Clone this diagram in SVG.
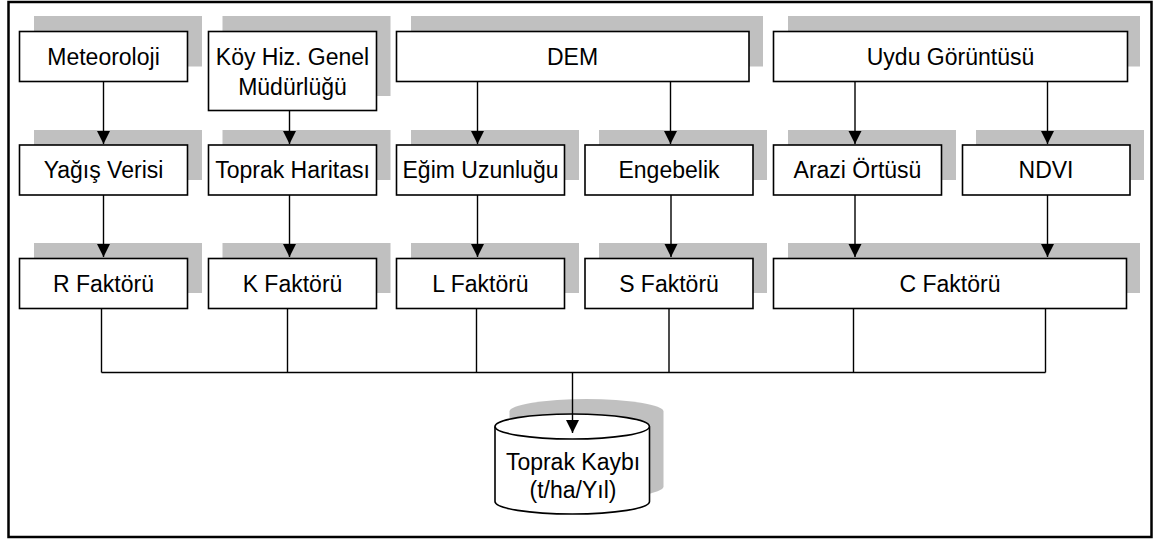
<svg xmlns="http://www.w3.org/2000/svg" width="1157" height="540" viewBox="0 0 1157 540">
<defs>
<style>
.sh{fill:#c0c0c0;stroke:none}
.bx{fill:#fff;stroke:#000;stroke-width:1.6}
.t{font-family:"Liberation Sans",Arial,sans-serif;font-size:23px;fill:#000;text-anchor:middle}
.c{fill:none;stroke:#000;stroke-width:1.4}
</style>
<marker id="ah" markerWidth="14" markerHeight="14" refX="13" refY="7" orient="auto" markerUnits="userSpaceOnUse"><path d="M0,0.5 L13,7 L0,13.5 z" fill="#000"/></marker>
</defs>
<rect x="0" y="0" width="1157" height="540" fill="#fff"/>
<rect x="8.5" y="2" width="1143" height="535" fill="none" stroke="#000" stroke-width="2.5"/>

<g id="meteoroloji"><rect class="sh" x="34" y="16" width="168" height="50.5"/><rect class="bx" x="19.5" y="31.5" width="168" height="50"/><text class="t" x="103.5" y="64.5">Meteoroloji</text></g>
<g id="koy"><rect class="sh" x="222.5" y="16" width="168" height="80"/><rect class="bx" x="208.5" y="31.5" width="168" height="79"/><text class="t" x="292.5" y="64.5">Köy Hiz. Genel</text><text class="t" x="292.5" y="94.5">Müdürlüğü</text></g>
<g id="dem"><rect class="sh" x="411" y="16" width="352" height="50.5"/><rect class="bx" x="396.5" y="31.5" width="352.5" height="50"/><text class="t" x="572.5" y="64.5">DEM</text></g>
<g id="uydu"><rect class="sh" x="788" y="16" width="352" height="50.5"/><rect class="bx" x="773.5" y="31.5" width="354" height="50"/><text class="t" x="950.5" y="64.5">Uydu Görüntüsü</text></g>

<g id="yagis"><rect class="sh" x="34" y="130" width="168" height="50"/><rect class="bx" x="19.5" y="145" width="168" height="50"/><text class="t" x="103.5" y="178">Yağış Verisi</text></g>
<g id="toprakharitasi"><rect class="sh" x="222.5" y="130" width="168" height="50"/><rect class="bx" x="208.5" y="145" width="168" height="50"/><text class="t" x="292.5" y="178">Toprak Haritası</text></g>
<g id="egim"><rect class="sh" x="411" y="130" width="168" height="50"/><rect class="bx" x="396.5" y="145" width="168" height="50"/><text class="t" x="480.5" y="178">Eğim Uzunluğu</text></g>
<g id="engebelik"><rect class="sh" x="599" y="130" width="168" height="50"/><rect class="bx" x="585" y="145" width="168" height="50"/><text class="t" x="669" y="178">Engebelik</text></g>
<g id="arazi"><rect class="sh" x="788" y="130" width="168" height="50"/><rect class="bx" x="773.5" y="145" width="168" height="50"/><text class="t" x="857.5" y="178">Arazi Örtüsü</text></g>
<g id="ndvi"><rect class="sh" x="976" y="130" width="168" height="50"/><rect class="bx" x="962.5" y="145" width="167.5" height="50"/><text class="t" x="1046" y="178">NDVI</text></g>

<g id="r"><rect class="sh" x="34" y="243" width="168" height="50"/><rect class="bx" x="19.5" y="258.5" width="168" height="50"/><text class="t" x="103.5" y="291.5">R Faktörü</text></g>
<g id="k"><rect class="sh" x="222.5" y="243" width="168" height="50"/><rect class="bx" x="208.5" y="258.5" width="168" height="50"/><text class="t" x="292.5" y="291.5">K Faktörü</text></g>
<g id="l"><rect class="sh" x="411" y="243" width="168" height="50"/><rect class="bx" x="396.5" y="258.5" width="168" height="50"/><text class="t" x="480.5" y="291.5">L Faktörü</text></g>
<g id="s"><rect class="sh" x="599" y="243" width="168" height="50"/><rect class="bx" x="585" y="258.5" width="168" height="50"/><text class="t" x="669" y="291.5">S Faktörü</text></g>
<g id="cf"><rect class="sh" x="788" y="243" width="352" height="50"/><rect class="bx" x="773.5" y="258.5" width="353" height="50"/><text class="t" x="950" y="291.5">C Faktörü</text></g>

<g id="connectors">
<line class="c" x1="103.5" y1="82" x2="103.5" y2="144" marker-end="url(#ah)"/>
<line class="c" x1="289.5" y1="111" x2="289.5" y2="144" marker-end="url(#ah)"/>
<line class="c" x1="477.5" y1="82" x2="477.5" y2="144" marker-end="url(#ah)"/>
<line class="c" x1="670.5" y1="82" x2="670.5" y2="144" marker-end="url(#ah)"/>
<line class="c" x1="855" y1="82" x2="855" y2="144" marker-end="url(#ah)"/>
<line class="c" x1="1047.5" y1="82" x2="1047.5" y2="144" marker-end="url(#ah)"/>
<line class="c" x1="103.5" y1="195" x2="103.5" y2="257" marker-end="url(#ah)"/>
<line class="c" x1="289.5" y1="195" x2="289.5" y2="257" marker-end="url(#ah)"/>
<line class="c" x1="477.5" y1="195" x2="477.5" y2="257" marker-end="url(#ah)"/>
<line class="c" x1="671" y1="195" x2="671" y2="257" marker-end="url(#ah)"/>
<line class="c" x1="855" y1="195" x2="855" y2="257" marker-end="url(#ah)"/>
<line class="c" x1="1047.5" y1="195" x2="1047.5" y2="257" marker-end="url(#ah)"/>
<path class="c" d="M101.5,308.5 V372.5 M287.5,308.5 V372.5 M476.5,308.5 V372.5 M669,308.5 V372.5 M853.5,308.5 V372.5 M1045.5,308.5 V372.5 M101.5,372.5 H1045.5"/>
</g>

<g id="toprakkaybi">
<path class="sh" d="M509.5,411.5 A77,12.5 0 0 1 663.5,411.5 V486.5 A77,12.5 0 0 1 509.5,486.5 Z"/>
<path fill="#fff" stroke="#000" stroke-width="1.6" d="M495,426.5 V501.5 A77.2,12.5 0 0 0 649.5,501.5 V426.5"/>
<ellipse cx="572.2" cy="426.5" rx="77.2" ry="12.5" fill="#fff" stroke="#000" stroke-width="1.6"/>
<text class="t" x="573" y="470">Toprak Kaybı</text>
<text class="t" x="573" y="498">(t/ha/Yıl)</text>
</g>
<line class="c" x1="572.5" y1="372.5" x2="572.5" y2="433" marker-end="url(#ah)"/>
</svg>
